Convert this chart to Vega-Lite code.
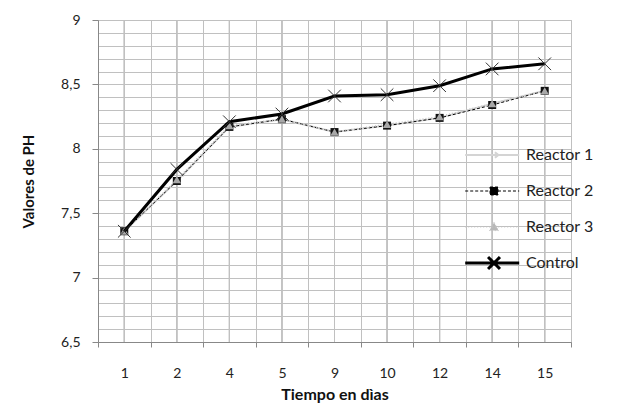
{
  "$schema": "https://vega.github.io/schema/vega-lite/v6.json",
  "width": 473,
  "height": 322,
  "padding": {"left": 21, "top": 13, "right": 5, "bottom": 3},
  "background": "white",
  "config": {
    "font": "Lato",
    "view": {"stroke": "#c0c0c0", "strokeWidth": 1},
    "axis": {"labelFont": "Lato", "titleFont": "Lato", "labelColor": "#222", "titleColor": "#111"}
  },
  "data": {
    "values": [
      {"day": "1", "series": "Reactor 1", "ph": 7.36},
      {"day": "2", "series": "Reactor 1", "ph": 7.75},
      {"day": "4", "series": "Reactor 1", "ph": 8.17},
      {"day": "5", "series": "Reactor 1", "ph": 8.23},
      {"day": "9", "series": "Reactor 1", "ph": 8.13},
      {"day": "10", "series": "Reactor 1", "ph": 8.18},
      {"day": "12", "series": "Reactor 1", "ph": 8.24},
      {"day": "14", "series": "Reactor 1", "ph": 8.35},
      {"day": "15", "series": "Reactor 1", "ph": 8.45},
      {"day": "1", "series": "Reactor 2", "ph": 7.36},
      {"day": "2", "series": "Reactor 2", "ph": 7.75},
      {"day": "4", "series": "Reactor 2", "ph": 8.17},
      {"day": "5", "series": "Reactor 2", "ph": 8.23},
      {"day": "9", "series": "Reactor 2", "ph": 8.13},
      {"day": "10", "series": "Reactor 2", "ph": 8.18},
      {"day": "12", "series": "Reactor 2", "ph": 8.24},
      {"day": "14", "series": "Reactor 2", "ph": 8.34},
      {"day": "15", "series": "Reactor 2", "ph": 8.45},
      {"day": "1", "series": "Reactor 3", "ph": 7.36},
      {"day": "2", "series": "Reactor 3", "ph": 7.76},
      {"day": "4", "series": "Reactor 3", "ph": 8.18},
      {"day": "5", "series": "Reactor 3", "ph": 8.23},
      {"day": "9", "series": "Reactor 3", "ph": 8.13},
      {"day": "10", "series": "Reactor 3", "ph": 8.19},
      {"day": "12", "series": "Reactor 3", "ph": 8.25},
      {"day": "14", "series": "Reactor 3", "ph": 8.35},
      {"day": "15", "series": "Reactor 3", "ph": 8.45},
      {"day": "1", "series": "Control", "ph": 7.36},
      {"day": "2", "series": "Control", "ph": 7.84},
      {"day": "4", "series": "Control", "ph": 8.21},
      {"day": "5", "series": "Control", "ph": 8.27},
      {"day": "9", "series": "Control", "ph": 8.41},
      {"day": "10", "series": "Control", "ph": 8.42},
      {"day": "12", "series": "Control", "ph": 8.49},
      {"day": "14", "series": "Control", "ph": 8.62},
      {"day": "15", "series": "Control", "ph": 8.66}
    ]
  },
  "encoding": {
    "x": {
      "field": "day", "type": "ordinal",
      "sort": ["1","2","4","5","9","10","12","14","15"],
      "scale": {"type": "band", "paddingInner": 0, "paddingOuter": 0},
      "axis": {
        "title": "Tiempo en dìas",
        "titleFontSize": 16, "titleFontWeight": "bold", "titlePadding": 6,
        "labelAngle": 0, "labelFontSize": 14, "labelPadding": 19,
        "tickBand": "extent", "tickSize": 5, "tickColor": "#888",
        "domainColor": "#888",
        "grid": true, "gridColor": "#c0c0c0", "gridWidth": 1
      }
    },
    "y": {
      "field": "ph", "type": "quantitative",
      "scale": {"domain": [6.5, 9], "zero": false, "nice": false},
      "axis": {
        "title": "Valores de PH",
        "titleFontSize": 15, "titleFontWeight": "bold", "titlePadding": 24,
        "values": [6.5,6.6,6.7,6.8,6.9,7,7.1,7.2,7.3,7.4,7.5,7.6,7.7,7.8,7.9,8,8.1,8.2,8.3,8.4,8.5,8.6,8.7,8.8,8.9,9],
        "tickCount": 40,
        "labelOverlap": false,
        "labelExpr": "abs(datum.value*2 - round(datum.value*2)) < 0.001 ? replace(format(datum.value, '~g'), '.', ',') : ''",
        "labelFontSize": 14, "labelPadding": 12,
        "tickSize": 6, "tickColor": "#888",
        "tickOpacity": {"condition": {"test": "abs(datum.value*2 - round(datum.value*2)) > 0.001", "value": 0}, "value": 1},
        "domainColor": "#888",
        "grid": true, "gridColor": "#c0c0c0", "gridWidth": 1
      }
    }
  },
  "layer": [
    {
      "mark": {"type": "rule", "color": "#c0c0c0", "strokeWidth": 1},
      "encoding": {"y": null}
    },
    {
      "transform": [{"filter": "datum.series == 'Reactor 1'"}],
      "mark": {"type": "line", "strokeWidth": 2},
      "encoding": {
        "color": {
          "field": "series", "type": "nominal",
          "scale": {"domain": ["Reactor 1","Reactor 2","Reactor 3","Control"], "range": ["#d4d4d4","#000000","#c4c4c4","#000000"]},
          "legend": {
            "title": null,
            "orient": "none",
            "legendX": 388,
            "legendY": 127,
            "padding": 0,
            "symbolSize": 1296,
            "rowPadding": 6,
            "gridAlign": "all",
            "labelOffset": 24,
            "labelFontSize": 16,
            "labelFont": "Lato",
            "labelColor": "#222",
            "encode": {
              "symbols": {
                "update": {
                  "shape": {"signal": "(datum.value == 'Reactor 1' ? 'M-1.6,0L1.4,0M0.05,-0.15L0.25,0L0.05,0.15' : datum.value == 'Reactor 2' ? 'M-1.6,0L-0.22,0M0.22,0L1.4,0M-0.22,-0.22L0.22,-0.22L0.22,0.22L-0.22,0.22Z' : datum.value == 'Reactor 3' ? 'M-1.6,0L1.4,0M0,-0.25L0.25,0.2L-0.25,0.2Z' : 'M-1.6,0L1.4,0M-0.33,-0.33L0.33,0.33M-0.33,0.33L0.33,-0.33') + 'M0,-0.5L0,-0.5M0,0.5L0,0.5'"},
                  "fill": {"signal": "datum.value == 'Reactor 2' ? '#000000' : datum.value == 'Reactor 3' ? '#b8b8b8' : 'transparent'"},
                  "strokeWidth": {"signal": "datum.value == 'Control' ? 3 : datum.value == 'Reactor 1' ? 2 : 1"},
                  "strokeDash": {"signal": "datum.value == 'Reactor 2' ? [3,2] : datum.value == 'Reactor 3' ? [1,2] : [1,0]"},
                  "opacity": {"value": 1}
                }
              }
            }
          }
        }
      }
    },
    {
      "transform": [{"filter": "datum.series == 'Reactor 2'"}],
      "mark": {"type": "line", "strokeWidth": 1, "strokeDash": [3, 2]},
      "encoding": {"color": {"field": "series", "type": "nominal"}}
    },
    {
      "transform": [{"filter": "datum.series == 'Reactor 3'"}],
      "mark": {"type": "line", "strokeWidth": 1.5, "strokeDash": [1, 2]},
      "encoding": {"color": {"field": "series", "type": "nominal"}}
    },
    {
      "transform": [{"filter": "datum.series == 'Reactor 1'"}],
      "mark": {"type": "point", "shape": "diamond", "filled": true, "color": "#d8d8d8", "size": 30, "opacity": 1}
    },
    {
      "transform": [{"filter": "datum.series == 'Reactor 2'"}],
      "mark": {"type": "point", "shape": "square", "filled": true, "color": "#111111", "size": 64, "opacity": 1}
    },
    {
      "transform": [{"filter": "datum.series == 'Reactor 3'"}],
      "mark": {"type": "point", "shape": "triangle-up", "filled": true, "color": "#a8a8a8", "size": 70, "opacity": 1}
    },
    {
      "transform": [{"filter": "datum.series == 'Control'"}],
      "mark": {"type": "line", "strokeWidth": 3},
      "encoding": {"color": {"field": "series", "type": "nominal"}}
    },
    {
      "transform": [{"filter": "datum.series == 'Control'"}],
      "mark": {"type": "point", "shape": "M-1,-1L1,1M-1,1L1,-1", "filled": false, "color": "#333333", "strokeWidth": 1, "size": 160, "opacity": 1}
    }
  ]
}
